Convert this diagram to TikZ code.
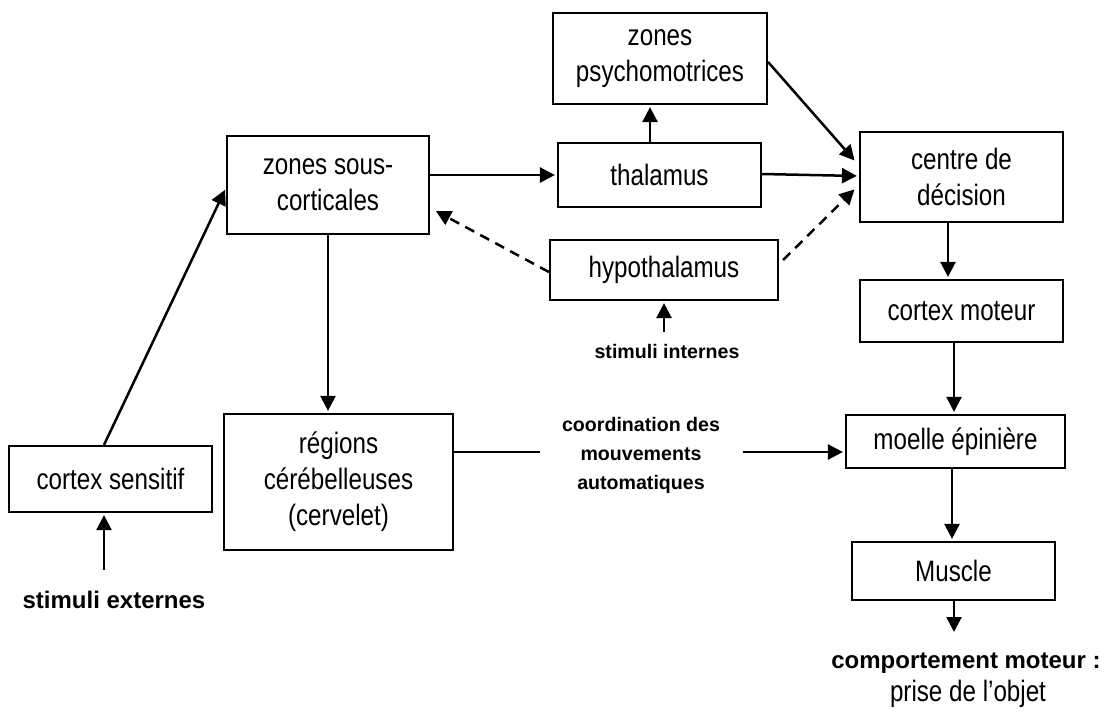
\documentclass[tikz,border=0pt]{standalone}
\usepackage{fontspec}
\setmainfont{Liberation Sans}[FakeStretch=0.82]
\newfontfamily\plainsans{Liberation Sans}
\usetikzlibrary{arrows.meta,calc}
\begin{document}
\begin{tikzpicture}[x=1pt,y=-1pt,
  box/.style={draw, line width=2.2pt, inner sep=0pt, align=center, font=\fontsize{29.5}{36}\selectfont},
  arr/.style={line width=2.5pt, -{Triangle[length=15pt,width=15pt]}, shorten >=2pt},
  darr/.style={arr, dash pattern=on 10pt off 7pt},
  plainline/.style={line width=2.5pt},
  bigbold/.style={font=\plainsans\bfseries\fontsize{24}{29}\selectfont, align=center, inner sep=0pt},
  smallbold/.style={font=\plainsans\bfseries\fontsize{19.6}{29}\selectfont, align=center, inner sep=0pt},
  plaintext/.style={font=\fontsize{29.5}{36}\selectfont, align=center, inner sep=0pt}]
\useasboundingbox (0,0) rectangle (1105,713);

% boxes
\node[box, minimum width=202pt, minimum height=98pt] (zsc) at (328,185) {zones sous-\\corticales};
\node[box, minimum width=214pt, minimum height=91pt] (zpsy) at (660,58.5) {zones\\psychomotrices};
\node[box, minimum width=203pt, minimum height=64pt] (thal) at (659.5,175) {thalamus};
\node[box, minimum width=228pt, minimum height=60pt] (hypo) at (664,270) {hypothalamus};
\node[box, minimum width=203pt, minimum height=90pt] (centre) at (961.5,177) {centre de\\décision};
\node[box, minimum width=203pt, minimum height=62pt] (cmot) at (961.5,311) {cortex moteur};
\node[box, minimum width=219pt, minimum height=53pt] (moelle) at (955.5,441.5) {moelle épinière};
\node[box, minimum width=203pt, minimum height=58pt] (muscle) at (953.5,571) {Muscle};
\node[box, minimum width=203pt, minimum height=66pt] (csens) at (110.5,479) {cortex sensitif};
\node[box, minimum width=229pt, minimum height=136pt] (reg) at (338.5,482) {régions\\cérébelleuses\\(cervelet)};

% text labels
\node[bigbold] (sext) at (114,600) {stimuli externes};
\node[smallbold] (sint) at (667,351) {stimuli internes};
\node[smallbold] (coord) at (641,455) {coordination des\\mouvements\\automatiques};
\node[bigbold] (comp) at (966,663) {comportement moteur :};
\node[plaintext] (prise) at (968,694) {prise de l’objet};

% helper coordinates
\coordinate (sextTop) at (104,570);
\coordinate (sintTop) at (664,332);
\coordinate (coordL) at (540,452);
\coordinate (coordR) at (743,452);
\coordinate (compTop) at (954,634);

% connectors
\draw[arr] ([xshift=-6.5pt]csens.north) -- ([yshift=-3pt]zsc.west);
\draw[arr] (sextTop) -- (sextTop |- csens.south);
\draw[arr] (zsc.south) -- (zsc.south |- reg.north);
\draw[arr] (zsc.east |- thal.west) -- (thal.west);
\draw[darr] ([yshift=-2pt]hypo.west) -- ([xshift=4pt,yshift=-25pt]zsc.east);
\draw[darr] ([xshift=4pt,yshift=10pt]hypo.east) -- ([xshift=-3pt,yshift=-11pt]centre.west);
\draw[arr] ([yshift=1pt]thal.east) -- ([yshift=1pt]centre.west);
\draw[arr] ([yshift=-3.5pt]zpsy.east) -- ([xshift=-3pt,yshift=15pt]centre.west);
\draw[arr] ([xshift=-9.5pt]thal.north) -- ([xshift=-10pt]zpsy.south);
\draw[arr] (sintTop) -- (sintTop |- hypo.south);
\draw[arr] ([xshift=-13.5pt]centre.south) -- ([xshift=-13.5pt]centre.south |- cmot.north);
\draw[arr] ([xshift=-7.5pt]cmot.south) -- ([xshift=-7.5pt]cmot.south |- moelle.north);
\draw[plainline] (reg.east |- coordL) -- (coordL);
\draw[arr] (coordR) -- (coordR -| moelle.west);
\draw[arr] ([xshift=-3.5pt]moelle.south) -- ([xshift=-3.5pt]moelle.south |- muscle.north);
\draw[arr] (muscle.south -| compTop) -- (compTop);
\end{tikzpicture}
\end{document}
